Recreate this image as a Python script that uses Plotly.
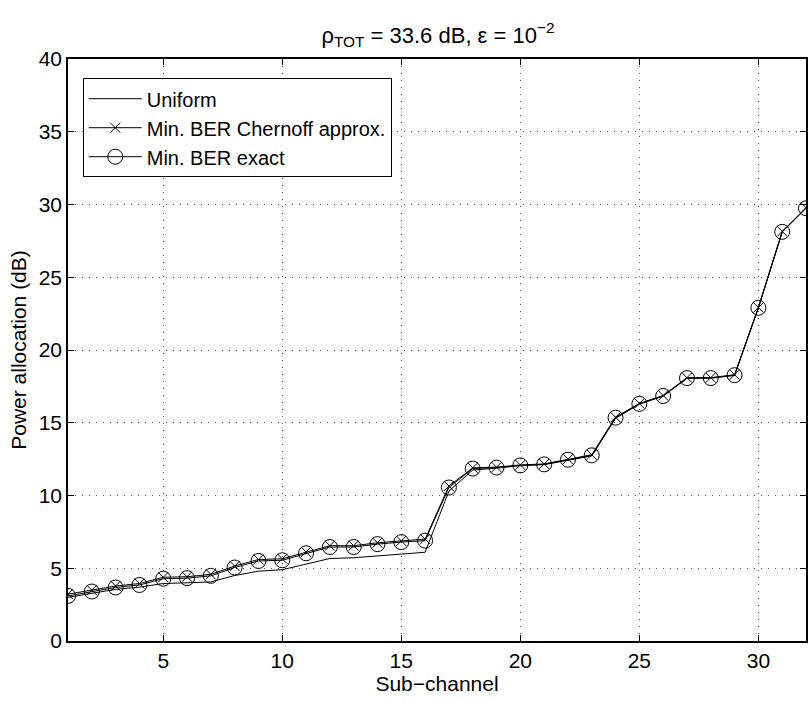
import plotly.graph_objects as go

sub_channel = list(range(1, 33))
uniform = [3.0, 3.3, 3.55, 3.7, 3.95, 4.0, 4.06, 4.5, 4.8, 4.9, 5.3, 5.67, 5.72, 5.85, 5.95, 6.1,
           10.3, 11.75, 11.88, 12.05, 12.12, 12.43, 12.72, 15.3, 16.28, 16.83, 18.05, 18.07, 18.25,
           22.9, 28.1, 29.75]
chernoff = [3.22, 3.5, 3.78, 3.95, 4.38, 4.42, 4.58, 5.15, 5.6, 5.65, 6.12, 6.55, 6.55, 6.75, 6.88, 7.0,
            10.65, 11.9, 11.95, 12.1, 12.17, 12.5, 12.8, 15.38, 16.33, 16.87, 18.1, 18.1, 18.3,
            22.92, 28.15, 29.78]
exact = [3.1, 3.4, 3.68, 3.85, 4.28, 4.32, 4.48, 5.05, 5.5, 5.55, 6.03, 6.46, 6.46, 6.66, 6.8, 6.9,
         10.55, 11.85, 11.92, 12.07, 12.14, 12.46, 12.76, 15.35, 16.3, 16.84, 18.07, 18.07, 18.27,
         22.9, 28.12, 29.74]

FONT = "Liberation Sans, Arial, Helvetica, sans-serif"
FS = 21

fig = go.Figure()
fig.add_trace(go.Scatter(x=sub_channel, y=uniform, mode="lines", name="Uniform",
                         line=dict(color="black", width=1)))
fig.add_trace(go.Scatter(x=sub_channel, y=chernoff, mode="lines+markers", name="Min. BER Chernoff approx.",
                         line=dict(color="black", width=1),
                         marker=dict(symbol="x-thin-open", size=10, color="black",
                                     line=dict(color="black", width=1))))
fig.add_trace(go.Scatter(x=sub_channel, y=exact, mode="lines+markers", name="Min. BER exact",
                         line=dict(color="black", width=1),
                         marker=dict(symbol="circle-open", size=15, color="black",
                                     line=dict(color="black", width=1))))

axis_common = dict(
    showline=True, linecolor="black", linewidth=1.5, mirror="allticks",
    ticks="inside", ticklen=6, tickcolor="black", tickwidth=1,
    showgrid=True, gridcolor="#555555", gridwidth=1, griddash="1px,6px",
    zeroline=False, tickfont=dict(family=FONT, size=FS, color="black"),
)

fig.update_xaxes(range=[1, 32], tick0=0, dtick=5,
                 title=dict(text="Sub\u2212channel", font=dict(family=FONT, size=FS, color="black"), standoff=0),
                 **axis_common)
fig.update_yaxes(range=[0, 40], tick0=0, dtick=5,
                 title=dict(text="Power allocation (dB)", font=dict(family=FONT, size=FS, color="black"), standoff=6),
                 **axis_common)

fig.update_layout(
    width=810, height=702,
    margin=dict(l=68, r=2, t=59, b=61),
    plot_bgcolor="white", paper_bgcolor="white",
    title=dict(text="\u03c1<sub>TOT</sub> = 33.6 dB, \u03b5 = 10<sup>\u22122</sup>",
               x=(68 + 370) / 810, xanchor="center", yref="container", y=1 - 35 / 702, yanchor="middle",
               font=dict(family=FONT, size=22, color="black")),
    legend=dict(x=0.02, y=0.967, xanchor="left", yanchor="top",
                bgcolor="white", bordercolor="black", borderwidth=1,
                font=dict(family=FONT, size=20, color="black"),
                tracegroupgap=0, itemwidth=53),
    showlegend=True,
)

fig.write_html("out.html")
